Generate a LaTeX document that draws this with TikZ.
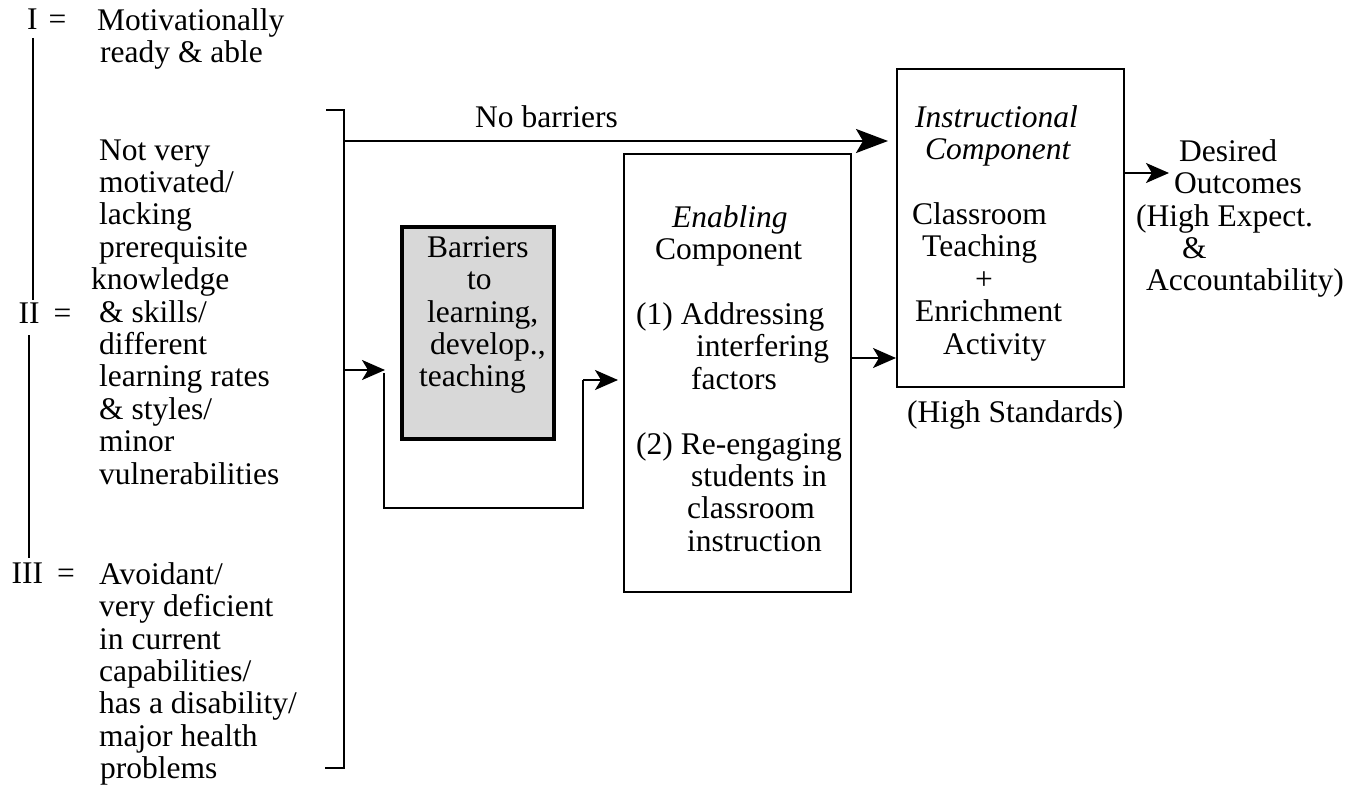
\documentclass[tikz,border=0pt]{standalone}
\usepackage{fontspec}
\setmainfont{Liberation Serif}
\usetikzlibrary{arrows.meta}
\definecolor{barfill}{RGB}{216,216,216}
\newcommand\fstrut{\rule[-9.72pt]{0pt}{22.68pt}}
\begin{document}
\begin{tikzpicture}[x=1pt,y=-1pt,
  txt/.style={anchor=north west, inner sep=0pt, align=left, font=\fontsize{31.5}{32.4}\selectfont},
  bigarr/.style={line width=2.3pt, -{Stealth[length=32pt,width=24pt,inset=7pt]}},
  arr/.style={line width=2.3pt, -{Stealth[length=23pt,width=20pt,inset=6pt]}},
  ln/.style={line width=2.4pt},
  vln/.style={line width=2.4pt},
  box/.style={draw, rectangle, inner sep=0pt, line width=1.8pt}]
\useasboundingbox (0,0) rectangle (1363,789);

% ---------- left column ----------
\node[txt] (lI) at (27,8.32) {\fstrut I\hspace{11pt}=};
\node[txt] (tA) at (97,8.32) {\fstrut Motivationally\\\hspace*{3pt}ready \& able};
\coordinate (vIa) at (33,38);
\coordinate (vIb) at (33,300);
\draw[vln] (vIa) -- (vIb);

\node[txt] (tB) at (91,139.32) {\fstrut\hspace*{8pt}Not very\\
\hspace*{8pt}motivated/\\
\hspace*{8pt}lacking\\
\hspace*{8pt}prerequisite\\
knowledge\\
\hspace*{8pt}\& skills/\\
\hspace*{8pt}different\\
\hspace*{8pt}learning rates\\
\hspace*{8pt}\& styles/\\
\hspace*{8pt}minor\\
\hspace*{8pt}vulnerabilities};
\node[txt] (lII) at (18.5,302.32) {\fstrut II\hspace{14pt}=};
\coordinate (vIIa) at (29,335);
\coordinate (vIIb) at (29,558);
\draw[vln] (vIIa) -- (vIIb);

\node[txt] (lIII) at (11.5,562.32) {\fstrut III\hspace{14pt}=};
\node[txt] (tC) at (99,562.32) {\fstrut Avoidant/\\
very deficient\\
in current\\
capabilities/\\
has a disability/\\
major health\\
\hspace*{1pt}problems};

% ---------- bracket ----------
\coordinate (bt) at (326,110);
\coordinate (btc) at (344,110);
\coordinate (bbc) at (344,768);
\coordinate (bb) at (325,768);
\draw[ln] (bt) -- (btc) -- (bbc) -- (bb);

% ---------- boxes ----------
\node[box, line width=3.3pt, fill=barfill, minimum width=152pt, minimum height=212pt] (bar) at (478,333) {};
\node[txt] (barT) at (419,236.32) {\fstrut\hspace*{8pt}Barriers\\
\hspace*{48pt}to\\
\hspace*{8pt}learning,\\
\hspace*{11pt}develop.,\\
teaching};

\node[box, minimum width=227pt, minimum height=438pt] (enab) at (737.5,373) {};
\node[txt] (enT) at (636,205.32) {\fstrut\hspace*{36pt}\textit{Enabling}\\
\hspace*{19pt}Component\\[32.4pt]
(1) Addressing\\
\hspace*{60pt}interfering\\
\hspace*{55pt}factors\\[32.4pt]
(2) Re-engaging\\
\hspace*{55pt}students in\\
\hspace*{51pt}classroom\\
\hspace*{51pt}instruction};

\node[box, line width=2pt, minimum width=227pt, minimum height=318pt] (instr) at (1010.5,228) {};
\node[txt] (inT) at (912,105.32) {\fstrut\hspace*{3pt}\textit{Instructional}\\
\hspace*{13pt}\textit{Component}\\[32.4pt]
Classroom\\
\hspace*{10pt}Teaching\\
\hspace*{63pt}+\\
\hspace*{3pt}Enrichment\\
\hspace*{31pt}Activity};
\node[txt] (hs) at (907,400.32) {\fstrut (High Standards)};

\node[txt] (outT) at (1136,139.32) {\fstrut\hspace*{43pt}Desired\\
\hspace*{38pt}Outcomes\\
(High Expect.\\
\hspace*{46pt}\&\\
\hspace*{10pt}Accountability)};

% ---------- connectors ----------
\node[txt] (nb) at (475,105.32) {\fstrut No barriers};
\coordinate (nbs) at (344,141);
\coordinate (nbe) at (888,141);
\draw[bigarr] (nbs) -- (nbe);

\coordinate (ba1) at (344,370);
\coordinate (ba2) at (385,370);
\draw[arr] (ba1) -- (ba2);

\coordinate (fb1) at (384,373);
\coordinate (fb2) at (384,508);
\coordinate (fb3) at (583,508);
\coordinate (fb4) at (583,380);
\coordinate (fb5) at (618,380);
\draw[ln] (fb1) -- (fb2) -- (fb3) -- (fb4);
\draw[arr] (fb4) -- (fb5);

\draw[arr] (enab.east |- 0,358) -- (instr.west |- 0,358);

\coordinate (oe) at (1169,173);
\draw[arr] (instr.east |- oe) -- (oe);
\end{tikzpicture}
\end{document}
